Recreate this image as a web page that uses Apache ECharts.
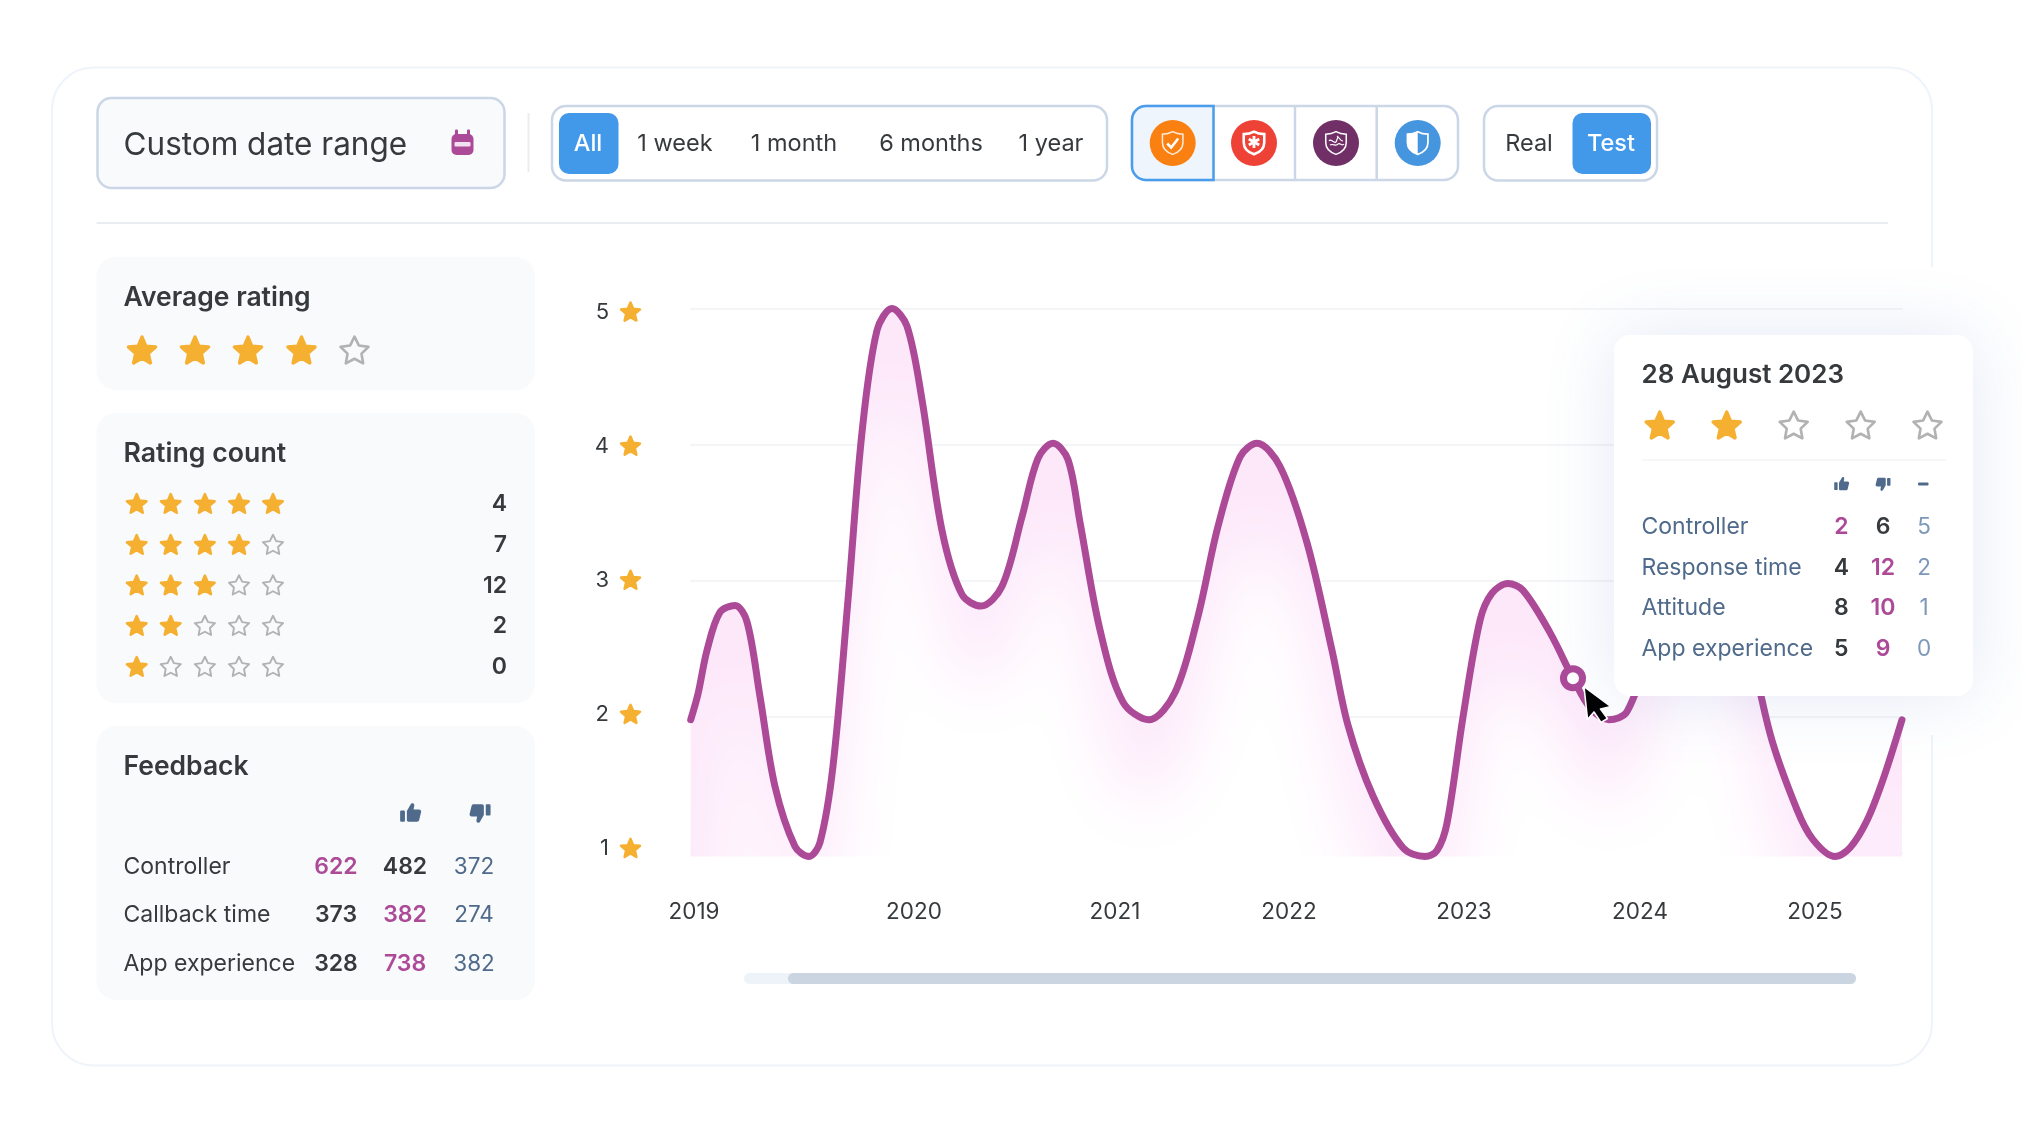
<!DOCTYPE html>
<html><head><meta charset="utf-8">
<style>html,body{margin:0;padding:0;background:#fff}#c{width:2022px;height:1137px}</style>
<script src="https://cdn.jsdelivr.net/npm/echarts@6/dist/echarts.min.js"></script>
</head><body><div id="c"></div>
<script>
// ---- chart data ----
const timelinePos = [0.7,8,17,30,45,57,70,85,105,119,130,143,158,172,187,202,217,232,252,272,291,312,332,348,363,378,390,410,433,459,485,508,528,550,567,590,617,642,658,683,713,735,747,757,773,790,802,818,833,860,883,900,919,937,958,974,990,1008,1026,1042,1056,1080,1107,1123,1145,1160,1177,1193,1212];
const ratingValues = [1.98,2.17,2.49,2.77,2.82,2.70,2.15,1.49,1.05,0.976,1.08,1.64,2.86,4.09,4.84,5.00,4.87,4.33,3.37,2.90,2.815,2.96,3.47,3.90,4.01,3.89,3.43,2.64,2.11,1.98,2.18,2.74,3.40,3.91,4.01,3.84,3.28,2.49,1.94,1.42,1.04,0.976,1.02,1.22,2.00,2.71,2.91,2.98,2.93,2.62,2.285,2.07,1.98,2.04,2.49,3.15,3.74,4.01,3.81,3.30,2.71,1.88,1.32,1.10,0.976,1.04,1.24,1.54,1.98];
const yearTicks = [4,224,425,599,774,950,1125];
const yearLabels = ['2019','2020','2021','2022','2023','2024','2025'];
const ratingTicks = [1,2,3,4,5];
const hoverPoint = [883,2.285];
// ---- dashboard content ----
const periodLabels = ['All','1 week','1 month','6 months','1 year'];
const modeLabels = ['Real','Test'];
const averageStars = 4;
const ratingRowStars = [5,4,3,2,1];
const ratingRowCounts = [4,7,12,2,0];
const feedbackNames = ['Controller','Callback time','App experience'];
const feedbackUp = [622,373,328];
const feedbackDown = [482,382,738];
const feedbackNeutral = [372,274,382];
const tooltipDate = '28 August 2023';
const tooltipStars = 2;
const tooltipNames = ['Controller','Response time','Attitude','App experience'];
const tooltipUp = [2,4,8,5];
const tooltipDown = [6,12,10,9];
const tooltipNeutral = [5,2,1,0];

const FONT='Inter';
const PINK='#ac4a98', DARK='#363a3d', SLATE='#4f6a8a', LSLATE='#7d98b8', GOLD='#f5b031', GREY='#b2b2b2', BLUE='#4299ea', LINE='#cbd6e6';
const g=[];
function rect(x,y,w,h,r,fill,stroke,lw,z,extra){g.push({type:'rect',silent:true,z:z||1,shape:{x,y,width:w,height:h,r},style:Object.assign({fill:fill||'transparent',stroke:stroke||null,lineWidth:lw||0},extra||{})});}
function text(x,y,s,size,weight,color,align,z){g.push({type:'text',silent:true,z:z||3,x,y:y+1.3,style:{text:String(s),fontFamily:FONT,fontSize:size,fontWeight:weight,fill:color,align:align||'left',verticalAlign:'middle'}});}
function line(x1,y1,x2,y2,color,lw,z){g.push({type:'line',silent:true,z:z||2,shape:{x1,y1,x2,y2},style:{stroke:color,lineWidth:lw}});}
function starPts(cx,cy,R,ratio){const p=[];for(let i=0;i<10;i++){const a=-Math.PI/2+i*Math.PI/5,r=i%2?R*ratio:R;p.push([cx+r*Math.cos(a),cy+r*Math.sin(a)]);}return p;}
function star(cx,cy,R,filled,z){
  g.push({type:'polygon',silent:true,z:z||3,shape:{points:starPts(cx,cy+1.4,filled?R*0.92:R*0.95,filled?0.46:0.5)},
    style:filled?{fill:GOLD,stroke:GOLD,lineWidth:R*0.22,lineJoin:'round'}:{fill:'transparent',stroke:GREY,lineWidth:R*0.17,lineJoin:'round'}});
}
const shapeNames={};let shapeCount=0;
function icon(path,cx,cy,scale,vw,vh,style,z){
  if(!shapeNames[path]){const n='ico'+(shapeCount++);echarts.graphic.registerShape(n,echarts.graphic.extendPath(path,{}));shapeNames[path]=n;}
  g.push({type:shapeNames[path],silent:true,z:z||3,x:cx-vw*scale/2,y:cy-vh*scale/2,scaleX:scale,scaleY:scale,style});
}
const THUMB_UP='M1 10.5a1 1 0 0 1 1-1h3a1 1 0 0 1 1 1V20a1 1 0 0 1-1 1H2a1 1 0 0 1-1-1zM8 10 L12 3 C12.6 1.4 15.6 1.2 15.8 3.8 L15 8.4 H20.6 C22.2 8.4 23.2 9.8 22.8 11.2 L20.8 19.4 C20.5 20.5 19.6 21.2 18.6 21.2 H10 C8.8 21.2 8 20.4 8 19.4 Z';
const THUMB_DOWN='M23 13.5a1 1 0 0 1-1 1h-3a1 1 0 0 1-1-1V4a1 1 0 0 1 1-1h3a1 1 0 0 1 1 1zM16 14 L12 21 C11.4 22.6 8.4 22.8 8.2 20.2 L9 15.6 H3.4 C1.8 15.6 .8 14.2 1.2 12.8 L3.2 4.6 C3.5 3.5 4.4 2.8 5.4 2.8 H14 C15.2 2.8 16 3.6 16 4.6 Z';
const SHIELD='M12 1.5 C15 3.2 18 3.8 21.5 3.8 V11.5 C21.5 16.8 17.5 20.6 12 22.5 C6.5 20.6 2.5 16.8 2.5 11.5 V3.8 C6 3.8 9 3.2 12 1.5 Z';

// outer card
rect(52,67.5,1880,998,42,'transparent','#eff4fa',2,1);
rect(1927,267,10,468,0,'#fff',null,0,2);
// date box
rect(97.5,98,407,90,14,'#f8fafc',LINE,2.5);
text(123.5,144.5,'Custom date range',31.5,400,DARK);
rect(451.5,134,22,21,5,PINK);
rect(455,129.5,3,6,1,PINK,null,0,2);rect(467,129.5,3,6,1,PINK,null,0,2);
rect(454.5,142,16,4.5,1,'#f3dff0',null,0,4);
line(528.5,113,528.5,172,'#e9edf2',2);
// period selector
rect(552,106,555,74.5,14,'#fff',LINE,2.5);
rect(559,113,59.5,61,10,BLUE);
[588,675,794,931,1051].forEach((x,i)=>text(x,142.5,periodLabels[i],23.5,i?400:500,i?DARK:'#fff','center'));
// provider icon selector
rect(1132,106,326,74,14,'#fff',LINE,2.5);
rect(1132,106,81.5,74,[14,0,0,14],'#eef5fc',null,0,2);
g.push({type:'rect',silent:true,z:3,shape:{x:1132,y:106,width:81.5,height:74,r:[14,0,0,14]},style:{fill:'transparent',stroke:'#4a9cec',lineWidth:2.5}});
line(1295,106,1295,180,LINE,2.5);line(1376.7,106,1376.7,180,LINE,2.5);
const cc=[[1172.7,'#fa8012'],[1254,'#ee4237'],[1336,'#702f66'],[1417.7,'#4596df']];
cc.forEach(([x,c])=>g.push({type:'circle',silent:true,z:4,shape:{cx:x,cy:143,r:23},style:{fill:c}}));
const sh=(x,s)=>icon(SHIELD,x,143,1.08,24,24,s,5);
sh(1172.7,{fill:'transparent',stroke:'#fff',lineWidth:1.4,opacity:.85});
icon('M2 7 L6 11 L13 2',1172.7,143,1,15,13,{fill:'transparent',stroke:'#fff',lineWidth:2.6},6);
sh(1254,{fill:'transparent',stroke:'#fff',lineWidth:2.4});
icon('M6 0V12M.8 3L11.2 9M.8 9L11.2 3',1254,142,1,12,12,{fill:'transparent',stroke:'#fff',lineWidth:2.8},6);
sh(1336,{fill:'transparent',stroke:'#fff',lineWidth:1.4});
icon('M1 6 C3 3 6 9 8 7 M9 1 C12 3 12 6 15 6 M2 10 C5 8 8 12 10 9 C12 7 14 12 16 9 M8 7 L10 2',1336,141,1,16,12,{fill:'transparent',stroke:'#fff',lineWidth:1.2},6);
sh(1417.7,{fill:'transparent',stroke:'#fff',lineWidth:1.6});
icon('M12 1.5 V22.5 C6.5 20.6 2.5 16.8 2.5 11.5 V3.8 C6 3.8 9 3.2 12 1.5 Z',1417.7,143,1.08,24,24,{fill:'#fff'},6);
// real / test
rect(1484,106,173,74.5,14,'#fff',LINE,2.5);
rect(1572.5,113,78.5,61,10,BLUE);
text(1529,142.5,modeLabels[0],23.5,400,DARK,'center');
text(1611,142.5,modeLabels[1],23.5,500,'#fff','center');
line(96.5,223,1888,223,'#e9ecf0',2);
// average rating
rect(96.5,257,438.5,133,20,'#f9fafc');
text(123.5,297,'Average rating',26.5,600,DARK);
[142,195,248,301.5,354.5].forEach((x,i)=>star(x,350,15.5,i<averageStars));
// rating count
rect(96.5,413,438.5,290,20,'#f9fafc');
text(123.5,452.5,'Rating count',26.7,600,DARK);
ratingRowStars.forEach((n,r)=>{
  const y=[503,544,584.5,625,666][r];
  [136.7,170.7,204.9,239,273].forEach((x,i)=>star(x,y,11.2,i<n));
  text(507,y,ratingRowCounts[r],23,600,DARK,'right');
});
// feedback
rect(96.5,726,438.5,274,20,'#f9fafc');
text(123.5,765.5,'Feedback',26.5,600,DARK);
icon(THUMB_UP,410.7,813,0.96,24,24,{fill:SLATE});
icon(THUMB_DOWN,480,813,0.96,24,24,{fill:SLATE});
feedbackNames.forEach((name,r)=>{
  const y=[866,914,962.5][r];
  text(123.5,y,name,23,400,DARK);
  const up=feedbackUp[r],dn=feedbackDown[r];
  text(336,y,up,23,600,up>dn?PINK:DARK,'center');
  text(405,y,dn,23,600,dn>up?PINK:DARK,'center');
  text(474,y,feedbackNeutral[r],22.5,400,SLATE,'center');
});
// scrollbar
rect(744,973,1112,11,5.5,'#eef3fa');
rect(788,973,1068,11,5.5,'#cbd5e2',null,0,2);
// tooltip card
const Z=100;
rect(1614,335,359,361,16,'#fff',null,0,Z,{shadowBlur:70,shadowColor:'rgba(80,120,190,0.16)'});
text(1641.5,374,tooltipDate,26,600,DARK,'left',Z+1);
[1659.7,1726.7,1793.7,1860.7,1927.5].forEach((x,i)=>star(x,425,15.5,i<tooltipStars,Z+1));
line(1641.5,460,1946,460,'#f2f4f7',1.5,Z+1);
icon(THUMB_UP,1841.7,484,0.68,24,24,{fill:SLATE},Z+1);
icon(THUMB_DOWN,1883,484,0.68,24,24,{fill:SLATE},Z+1);
rect(1918,482.5,10.5,3,1,SLATE,null,0,Z+1);
tooltipNames.forEach((name,r)=>{
  const y=[526,566.5,607,648][r];
  text(1641.5,y,name,23,400,SLATE,'left',Z+1);
  text(1841.3,y,tooltipUp[r],23,600,r==0?PINK:DARK,'center',Z+1);
  text(1883,y,tooltipDown[r],23,600,r==0?DARK:PINK,'center',Z+1);
  text(1924,y,tooltipNeutral[r],22.5,400,LSLATE,'center',Z+1);
});
// mouse cursor
g.push({type:'polygon',silent:true,z:Z-1,shape:{points:[[1584,686.5],[1611,706.5],[1600.5,709],[1607.5,718.5],[1601,722.5],[1594,712],[1587.5,719.5]]},style:{fill:'#000',stroke:'#fff',lineWidth:1.6,lineJoin:'round'}});

const starSvg='data:image/svg+xml;utf8,'+encodeURIComponent('<svg xmlns="http://www.w3.org/2000/svg" width="46" height="46" viewBox="0 0 46 46"><polygon points="'+starPts(23,24,20,0.46).map(p=>p.join(',')).join(' ')+'" fill="'+GOLD+'" stroke="'+GOLD+'" stroke-width="5" stroke-linejoin="round"/></svg>');

const chart=echarts.init(document.getElementById('c'),null,{renderer:'canvas',width:2022,height:1137});
const option={
  animation:false,
  backgroundColor:'#fff',
  grid:{left:690,top:308.5,width:1213,height:548,containLabel:false},
  xAxis:{type:'value',min:0,max:1213,axisLine:{show:false},axisTick:{show:false},splitLine:{show:false},
    axisLabel:{customValues:yearTicks,margin:44,fontFamily:FONT,fontSize:22.5,color:DARK,showMinLabel:true,showMaxLabel:true,hideOverlap:false,
      formatter:v=>yearLabels[yearTicks.indexOf(v)]||''}},
  yAxis:[
    {type:'value',min:0.976,max:5,axisLine:{show:false},axisTick:{show:false,customValues:ratingTicks},
      splitLine:{show:true,customValues:ratingTicks,lineStyle:{color:'#f4f5f7',width:2}},axisLabel:{show:false}},
    {type:'value',position:'left',min:0.9396,max:5.026,axisLine:{show:false},axisTick:{show:false,customValues:ratingTicks},splitLine:{show:false},
      axisLabel:{customValues:ratingTicks,margin:48,hideOverlap:false,showMinLabel:true,showMaxLabel:true,align:'right',
        formatter:v=>`{n|${v}}{s|}`,
        rich:{n:{fontFamily:FONT,fontSize:22,color:DARK,padding:[0,10,0,0]},s:{width:23,height:23,backgroundColor:{image:starSvg}}}}}
  ],
  graphic:{elements:g},
  series:[
    {id:'rating',name:'Rating',type:'line',data:timelinePos.map((x,i)=>[x,ratingValues[i]]),smooth:0.33,showSymbol:false,clip:false,z:5,
      lineStyle:{color:PINK,width:7,cap:'round',join:'round'},itemStyle:{color:PINK},areaStyle:{color:'#fdeafb',opacity:1}},
    {id:'hover',name:'Selected day',type:'scatter',data:[hoverPoint],symbol:'circle',symbolSize:19,clip:false,z:6,
      itemStyle:{color:'#fff',borderColor:PINK,borderWidth:7,opacity:1}}
  ]
};
chart.setOption(option);
// soft fill: pale pink that fades with distance below the curve
const pts=timelinePos.map((x,i)=>chart.convertToPixel({xAxisIndex:0,yAxisIndex:0},[x,ratingValues[i]]));
const cv=document.createElement('canvas');cv.width=2022;cv.height=1137;
const ctx=cv.getContext('2d');
ctx.fillStyle='#fde8fa';ctx.fillRect(0,0,2022,1137);
ctx.filter='blur(34px)';ctx.fillStyle='#fff';
ctx.beginPath();
const drop=88;
ctx.moveTo(pts[0][0]+35,1000);
pts.forEach(p=>ctx.lineTo(Math.max(p[0],pts[0][0]+35),p[1]+drop));
ctx.lineTo(pts[pts.length-1][0]-35,pts[pts.length-1][1]+drop);
ctx.lineTo(pts[pts.length-1][0]-35,1000);
ctx.closePath();ctx.fill();
chart.setOption({series:[{id:'rating',areaStyle:{color:{image:cv,repeat:'no-repeat'},opacity:1}}]});
</script></body></html>
